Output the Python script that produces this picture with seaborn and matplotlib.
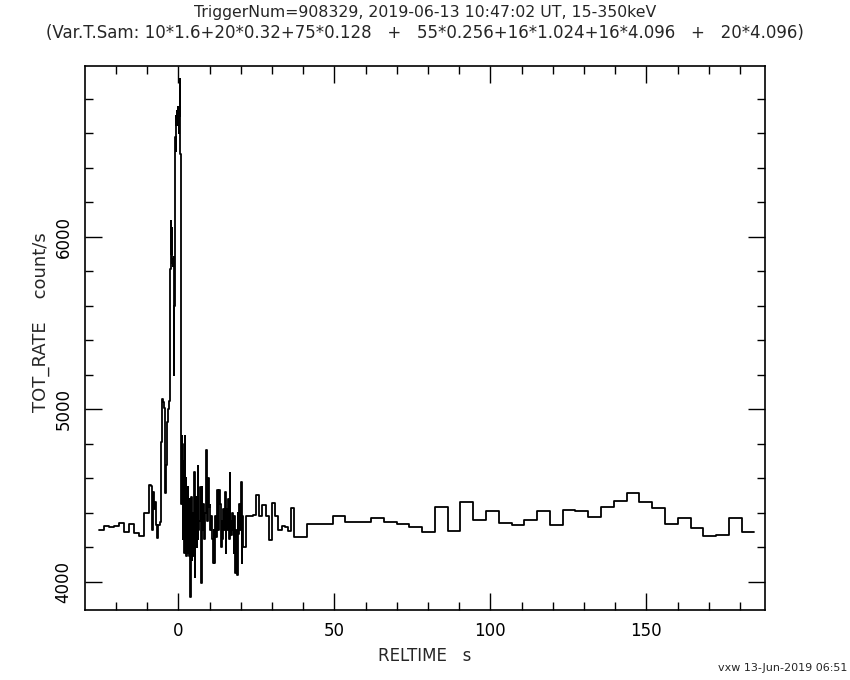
#!/usr/bin/env python
import matplotlib
matplotlib.use('Agg')
import matplotlib.pyplot as plt
import numpy as np
import pandas as pd
import seaborn as sns
from matplotlib.ticker import MultipleLocator

# variable time sampling, read from the title: (bin count, bin width in s)
sampling = [(10, 1.6), (20, 0.32), (75, 0.128), (55, 0.256),
            (16, 1.024), (16, 4.096), (20, 4.096)]
t_start = -25.3

# rate per bin (count/s)
rate_1p6 = [4300, 4324, 4318, 4326, 4341, 4289, 4334, 4283, 4267, 4400]
rate_0p32 = [4562, 4560, 4555, 4300, 4520, 4420, 4460, 4330, 4255, 4330,
             4330, 4345, 4808, 5060, 5045, 5010, 4517, 4680, 4924, 5000]
rate_0p128 = [5050, 5390, 5100, 5814, 6090, 5900, 6050, 5850, 5870, 5830,
              5850, 5880, 5200, 5600, 6100, 6580, 6500, 6700, 6650, 6730,
              6700, 6750, 6650, 6720, 6600, 6700, 6913, 6650, 6480,
              4850, 4450, 4843, 4500, 4800, 4250, 4600, 4420, 4700, 4169,
              4843, 4300, 4600, 4200, 4150, 4550, 4250,
              4552, 4169, 4400, 4200, 4150, 4480, 4170, 3913, 4250,
              4494, 4128, 4350, 4200, 4400, 4150, 4300, 4220,
              4634, 4030, 4450, 4300, 4494, 4350, 4200, 4480, 4250, 4669,
              4300, 4350]
rate_0p256 = [4350, 4547, 3994, 4547, 4300, 4450, 4250, 4400, 4494, 4767,
              4350, 4600, 4435, 4448, 4300, 4380, 4250, 4110, 4300, 4110,
              4380, 4260, 4535, 4400, 4300, 4535, 4450, 4203, 4350, 4250,
              4420, 4300, 4523, 4169, 4420, 4302, 4480, 4250, 4628, 4350,
              4270, 4400, 4300, 4169, 4380, 4052, 4300, 4040, 4400, 4280,
              4450, 4300, 4581, 4110, 4380]
rate_1p024 = [4200, 4380, 4380, 4390, 4506, 4380, 4448, 4380, 4244, 4459,
              4380, 4302, 4321, 4320, 4292, 4430]
rate_4p096 = [4262, 4335, 4335, 4380, 4349, 4349, 4370, 4349, 4335, 4318,
              4289, 4434, 4295, 4463, 4358, 4411, 4343, 4329, 4358, 4411,
              4329, 4417, 4411, 4376, 4434, 4469, 4512, 4463, 4428, 4335,
              4370, 4312, 4266, 4271, 4370, 4291]

rates = rate_1p6 + rate_0p32 + rate_0p128 + rate_0p256 + rate_1p024 + rate_4p096
widths = np.concatenate([np.full(n, w) for n, w in sampling])
edges = t_start + np.concatenate([[0], np.cumsum(widths)])

df = pd.DataFrame({'reltime': edges, 'rate': rates + [rates[-1]]})

sns.set_style('ticks')
plt.rcParams['font.family'] = ['DejaVu Sans']

fig = plt.figure(figsize=(8.5, 6.8), dpi=100)
ax = fig.add_axes([0.1, 0.103, 0.8, 0.8])

sns.lineplot(data=df, x='reltime', y='rate', drawstyle='steps-post',
             estimator=None, sort=False, color='black', linewidth=1.3, ax=ax)

ax.set_xlim(-29.9, 188.0)
ax.set_ylim(3837, 6990)
ax.xaxis.set_major_locator(MultipleLocator(50))
ax.xaxis.set_minor_locator(MultipleLocator(10))
ax.yaxis.set_major_locator(MultipleLocator(1000))
ax.yaxis.set_minor_locator(MultipleLocator(200))
ax.tick_params(which='both', direction='in', top=True, right=True,
               colors='black', labelsize=12, width=1)
ax.tick_params(which='major', length=12, pad=9)
ax.tick_params(which='minor', length=6)
for lab in ax.get_yticklabels():
    lab.set_rotation(90)
    lab.set_va('center')
for s in ax.spines.values():
    s.set_linewidth(1.2)
    s.set_color('black')

ax.set_xlabel('RELTIME   s', fontsize=12, labelpad=5)
ax.set_ylabel('TOT_RATE    count/s', fontsize=13)
ax.yaxis.set_label_coords(-0.052, 0.53)

fig.text(0.5, 0.982, 'TriggerNum=908329, 2019-06-13 10:47:02 UT, 15-350keV',
         ha='center', va='center', fontsize=11.3)
fig.text(0.5, 0.951,
         '(Var.T.Sam: 10*1.6+20*0.32+75*0.128   +   55*0.256+16*1.024+16*4.096   +   20*4.096)',
         ha='center', va='center', fontsize=12)
fig.text(0.997, 0.017, 'vxw 13-Jun-2019 06:51', ha='right', va='center',
         fontsize=8)

fig.savefig('out.png', dpi=100, facecolor='white')
